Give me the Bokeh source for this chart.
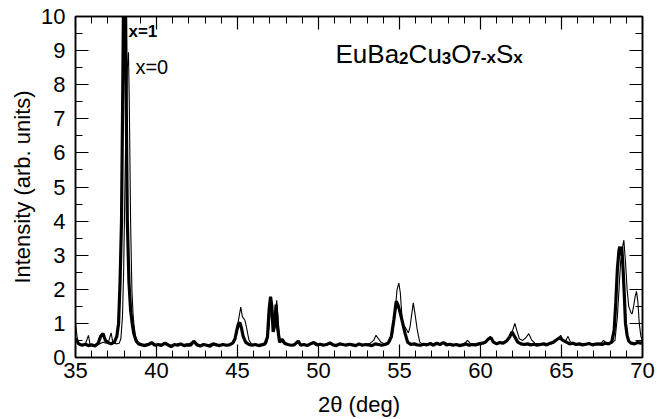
from bokeh.plotting import figure
from bokeh.models import LinearAxis, SingleIntervalTicker, Label, CustomJSTickFormatter
from bokeh.embed import file_html
from bokeh.resources import INLINE

# 2-theta (deg) and intensity (arb. units)
theta_x1 = [35.0, 35.2, 35.4, 35.6, 35.8, 36.0, 36.2, 36.4, 36.55, 36.7, 36.85, 37.0, 37.2, 37.4,
            37.55, 37.66, 37.75, 37.84, 37.92, 38.0, 38.08, 38.15, 38.2, 38.3, 38.4, 38.5, 38.6,
            38.75, 38.9, 39.1, 39.3, 39.5, 39.7, 39.9, 40.1, 40.3, 40.5, 40.7, 40.9, 41.1, 41.3,
            41.5, 41.7, 41.9, 42.1, 42.3, 42.5, 42.7, 42.9, 43.1, 43.3, 43.5, 43.7, 43.9, 44.1,
            44.3, 44.5, 44.7, 44.85, 44.95, 45.05, 45.15, 45.25, 45.35, 45.5, 45.7, 45.9, 46.1,
            46.3, 46.5, 46.7, 46.85, 46.95, 47.04, 47.12, 47.2, 47.3, 47.38, 47.48, 47.6, 47.76,
            47.9, 48.1, 48.3, 48.5, 48.75, 48.9, 49.1, 49.3, 49.5, 49.7, 49.9, 50.1, 50.3, 50.5,
            50.7, 50.9, 51.1, 51.3, 51.5, 51.7, 51.9, 52.1, 52.3, 52.5, 52.7, 52.9, 53.1, 53.3,
            53.5, 53.7, 53.9, 54.1, 54.3, 54.5, 54.65, 54.8, 54.9, 55.05, 55.2, 55.35, 55.5, 55.7,
            55.9, 56.1, 56.3, 56.5, 56.7, 56.9, 57.1, 57.3, 57.5, 57.7, 57.9, 58.1, 58.3, 58.5,
            58.7, 58.9, 59.1, 59.3, 59.5, 59.7, 59.9, 60.1, 60.3, 60.5, 60.65, 60.8, 61.0, 61.2,
            61.4, 61.6, 61.8, 61.95, 62.1, 62.3, 62.5, 62.7, 62.9, 63.1, 63.3, 63.5, 63.7, 63.9,
            64.1, 64.3, 64.5, 64.7, 64.9, 65.1, 65.3, 65.5, 65.7, 65.9, 66.1, 66.3, 66.5, 66.7,
            66.9, 67.1, 67.3, 67.5, 67.7, 67.9, 68.1, 68.25, 68.35, 68.45, 68.55, 68.6, 68.66,
            68.72, 68.8, 68.88, 68.95, 69.05, 69.15, 69.3, 69.5, 69.7, 69.9, 70.0]
int_x1 = [0.55, 0.40, 0.36, 0.39, 0.35, 0.37, 0.34, 0.42, 0.62, 0.70, 0.50, 0.44, 0.40, 0.45,
          0.62, 1.0, 2.2, 4.0, 8.0, 12.5, 11.0, 6.5, 4.0, 2.2, 1.4, 1.0, 0.7,
          0.48, 0.40, 0.37, 0.35, 0.38, 0.44, 0.36, 0.38, 0.35, 0.42, 0.37, 0.32, 0.38, 0.36,
          0.40, 0.35, 0.37, 0.36, 0.48, 0.37, 0.34, 0.38, 0.36, 0.33, 0.40, 0.37, 0.35, 0.38,
          0.36, 0.37, 0.42, 0.55, 0.78, 0.98, 1.02, 0.85, 0.62, 0.45, 0.38, 0.36, 0.38,
          0.35, 0.37, 0.40, 0.60, 1.40, 1.78, 1.50, 0.75, 0.95, 1.55, 0.85, 0.45, 0.53,
          0.42, 0.38, 0.36, 0.37, 0.48, 0.36, 0.38, 0.35, 0.40, 0.44, 0.37, 0.39, 0.36, 0.38,
          0.43, 0.37, 0.35, 0.40, 0.38, 0.36, 0.39, 0.37, 0.35, 0.40, 0.36, 0.38, 0.37, 0.35,
          0.40, 0.38, 0.36, 0.38, 0.42, 0.62, 1.10, 1.65, 1.55, 1.30, 1.00, 0.70, 0.45, 0.38,
          0.40, 0.37, 0.36, 0.39, 0.37, 0.41, 0.36, 0.42, 0.38, 0.44, 0.37, 0.39, 0.36, 0.38,
          0.35, 0.37, 0.40, 0.36, 0.38, 0.37, 0.40, 0.42, 0.45, 0.55, 0.58, 0.45, 0.40, 0.44,
          0.42, 0.48, 0.60, 0.75, 0.62, 0.45, 0.40, 0.38, 0.40, 0.37, 0.39, 0.36, 0.38, 0.40,
          0.37, 0.42, 0.45, 0.52, 0.58, 0.50, 0.45, 0.40, 0.42, 0.38, 0.40, 0.37, 0.39, 0.41,
          0.37, 0.39, 0.40, 0.38, 0.42, 0.40, 0.45, 0.80, 1.60, 2.60, 3.15, 3.25, 3.00,
          3.25, 2.60, 1.80, 1.00, 0.65, 0.48, 0.42, 0.40, 0.44, 0.42, 0.45]

theta_x0 = [35.0, 35.1, 35.2, 35.4, 35.6, 35.8, 35.9, 36.1, 36.3, 36.5, 36.7, 36.9, 37.05, 37.2,
            37.3, 37.5, 37.7, 37.8, 37.9, 37.97, 38.02, 38.1, 38.2, 38.27, 38.32, 38.4, 38.48,
            38.55, 38.6, 38.7, 38.85, 39.0, 39.2, 39.4, 39.6, 39.8, 40.0, 40.2, 40.4, 40.6, 40.8,
            41.0, 41.2, 41.4, 41.6, 41.8, 42.0, 42.2, 42.4, 42.6, 42.8, 43.0, 43.2, 43.4, 43.6,
            43.8, 44.0, 44.2, 44.4, 44.6, 44.8, 44.95, 45.1, 45.2, 45.3, 45.45, 45.55, 45.7,
            45.85, 46.0, 46.2, 46.4, 46.6, 46.8, 46.95, 47.08, 47.16, 47.24, 47.32, 47.42, 47.52,
            47.62, 47.8, 48.0, 48.2, 48.4, 48.6, 48.8, 49.0, 49.2, 49.4, 49.6, 49.8, 50.0, 50.2,
            50.4, 50.6, 50.8, 51.0, 51.2, 51.4, 51.6, 51.8, 52.0, 52.2, 52.4, 52.6, 52.8, 53.0,
            53.2, 53.4, 53.55, 53.7, 53.85, 54.0, 54.2, 54.4, 54.55, 54.7, 54.85, 54.96, 55.05,
            55.15, 55.25, 55.4, 55.55, 55.65, 55.75, 55.85, 55.95, 56.1, 56.25, 56.4, 56.6, 56.8,
            57.0, 57.2, 57.4, 57.6, 57.8, 58.0, 58.2, 58.4, 58.6, 58.8, 59.0, 59.2, 59.4, 59.6,
            59.8, 60.0, 60.2, 60.4, 60.6, 60.75, 60.9, 61.1, 61.3, 61.5, 61.7, 61.85, 62.0, 62.12,
            62.25, 62.4, 62.6, 62.8, 62.98, 63.15, 63.35, 63.6, 63.8, 64.0, 64.2, 64.4, 64.6,
            64.8, 64.95, 65.1, 65.25, 65.4, 65.55, 65.7, 65.9, 66.1, 66.3, 66.5, 66.7, 66.9,
            67.1, 67.3, 67.5, 67.6, 67.75, 67.9, 68.1, 68.3, 68.45, 68.55, 68.65, 68.75, 68.85,
            68.95, 69.05, 69.15, 69.3, 69.36, 69.45, 69.55, 69.63, 69.72, 69.8, 69.9, 70.0]
int_x0 = [1.00, 0.60, 0.40, 0.35, 0.38, 0.65, 0.38, 0.36, 0.38, 0.40, 0.45, 0.42, 0.48, 0.72,
          0.45, 0.40, 0.42, 0.55, 1.2, 2.5, 4.0, 6.5, 8.5, 8.95, 7.5, 4.0, 2.0,
          1.3, 1.0, 0.62, 0.45, 0.40, 0.37, 0.40, 0.42, 0.38, 0.36, 0.39, 0.40, 0.44, 0.37,
          0.35, 0.38, 0.42, 0.37, 0.39, 0.40, 0.45, 0.42, 0.38, 0.36, 0.39, 0.37, 0.41, 0.40,
          0.36, 0.38, 0.39, 0.37, 0.40, 0.45, 0.80, 1.20, 1.48, 1.20, 1.10, 0.90, 0.52,
          0.40, 0.38, 0.37, 0.39, 0.38, 0.42, 0.90, 1.70, 1.40, 0.80, 1.20, 1.68, 1.00,
          0.50, 0.45, 0.40, 0.38, 0.37, 0.40, 0.43, 0.38, 0.36, 0.39, 0.40, 0.45, 0.38, 0.40,
          0.37, 0.41, 0.38, 0.36, 0.40, 0.39, 0.37, 0.41, 0.38, 0.36, 0.39, 0.40, 0.37, 0.38,
          0.42, 0.50, 0.65, 0.55, 0.45, 0.42, 0.40, 0.45, 0.60, 1.20, 2.00, 2.18, 1.90,
          1.20, 0.95, 0.85, 0.72, 0.90, 1.25, 1.60, 1.30, 0.80, 0.45, 0.40, 0.38, 0.40,
          0.37, 0.42, 0.39, 0.40, 0.45, 0.38, 0.40, 0.37, 0.39, 0.38, 0.40, 0.50, 0.40, 0.38,
          0.40, 0.42, 0.40, 0.48, 0.62, 0.50, 0.42, 0.45, 0.40, 0.45, 0.52, 0.65, 0.82, 1.00,
          0.78, 0.55, 0.50, 0.58, 0.70, 0.52, 0.42, 0.40, 0.38, 0.40, 0.42, 0.40, 0.48,
          0.55, 0.65, 0.50, 0.48, 0.62, 0.45, 0.40, 0.42, 0.38, 0.40, 0.41, 0.38, 0.40,
          0.42, 0.38, 0.45, 0.50, 0.42, 0.40, 0.42, 0.50, 1.20, 2.00, 2.80, 3.20, 3.44,
          2.80, 2.00, 1.50, 1.30, 1.28, 1.50, 1.80, 1.94, 1.60, 1.00, 0.62, 0.50]

x_ticks_interval = 5
y_ticks_interval = 1

FONT = "Liberation Sans"

p = figure(width=657, height=419, x_range=(35, 70), y_range=(0, 10),
           output_backend="svg", toolbar_location=None,
           min_border_left=75, min_border_right=15, min_border_top=16, min_border_bottom=59)
p.background_fill_color = "white"
p.border_fill_color = "white"
p.outline_line_color = "black"
p.outline_line_width = 1.5
p.xgrid.visible = False
p.ygrid.visible = False

def style_axis(ax, show_labels):
    ax.major_tick_in = 13
    ax.major_tick_out = 0
    ax.minor_tick_in = 7
    ax.minor_tick_out = 0
    ax.axis_line_width = 1.5
    ax.axis_line_color = "black"
    ax.major_tick_line_width = 1.2
    ax.minor_tick_line_width = 1.0
    ax.major_tick_line_color = "black"
    ax.minor_tick_line_color = "black"
    if show_labels:
        ax.major_label_text_font = FONT
        ax.major_label_text_font_size = "22px"
        ax.major_label_text_color = "black"
        ax.axis_label_text_font = FONT
        ax.axis_label_text_font_size = "22px"
        ax.axis_label_text_font_style = "normal"
        ax.axis_label_text_color = "black"
    else:
        ax.formatter = CustomJSTickFormatter(code="return ''")
        ax.major_label_standoff = 0

xt = SingleIntervalTicker(interval=x_ticks_interval, num_minor_ticks=5)
yt = SingleIntervalTicker(interval=y_ticks_interval, num_minor_ticks=2)

p.xaxis.ticker = xt
p.yaxis.ticker = yt
p.xaxis.axis_label = "2θ (deg)"
p.yaxis.axis_label = "Intensity (arb. units)"
style_axis(p.xaxis[0], True)
style_axis(p.yaxis[0], True)
p.xaxis.major_label_standoff = 5
p.xaxis.axis_label_standoff = 11
p.yaxis.major_label_standoff = 10
p.yaxis.axis_label_standoff = 3

top = LinearAxis(ticker=SingleIntervalTicker(interval=x_ticks_interval, num_minor_ticks=5))
right = LinearAxis(ticker=SingleIntervalTicker(interval=y_ticks_interval, num_minor_ticks=2))
style_axis(top, False)
style_axis(right, False)
p.add_layout(top, "above")
p.add_layout(right, "right")

p.line(theta_x0, int_x0, line_color="black", line_width=1.1)
p.line(theta_x1, int_x1, line_color="black", line_width=3.2)

p.add_layout(Label(x=38.27, y=9.55, text="x=1", text_font=FONT, text_font_size="17px",
                   text_font_style="bold", text_color="black", text_baseline="alphabetic"))
p.add_layout(Label(x=38.7, y=8.52, text="x=0", text_font=FONT, text_font_size="20px",
                   text_color="black", text_baseline="alphabetic"))

# formula EuBa2Cu3O7-xSx built from main text and bold subscripts
ax0, ay0 = 51.05, 8.9
pieces = [("EuBa", 0.0, False), ("2", 63.6, True), ("Cu", 73.1, False), ("3", 106.3, True),
          ("O", 115.7, False), ("7-x", 135.9, True), ("S", 160.5, False), ("x", 177.8, True)]
for txt, off, sub in pieces:
    p.add_layout(Label(x=ax0, y=ay0, x_offset=off, y_offset=-3.5 if sub else 0, text=txt,
                       text_font=FONT, text_font_size="17px" if sub else "26px",
                       text_font_style="bold" if sub else "normal",
                       text_color="black", text_baseline="alphabetic"))

open("out.html", "w").write(file_html(p, INLINE))
